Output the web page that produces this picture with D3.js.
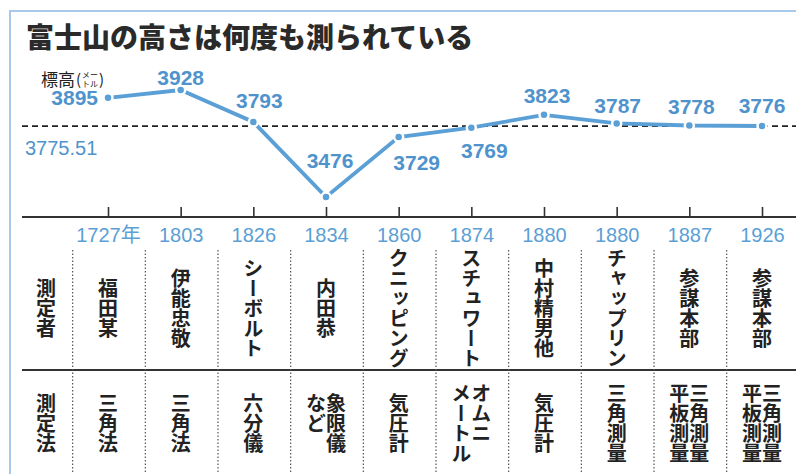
<!DOCTYPE html>
<html>
<head>
<meta charset="utf-8">
<script src="https://cdn.jsdelivr.net/npm/d3@7"></script>
<style>
  body { margin: 0; background: #fff; }
  svg { display: block; }
  .cjk { font-family: "Noto Sans CJK JP", sans-serif; }
  .num { font-family: "Liberation Sans", Arial, sans-serif; }
  .vert { writing-mode: vertical-rl; }
</style>
</head>
<body>
<svg id="chart" width="796" height="474"></svg>
<script>
// data
var years = ["1727年", "1803", "1826", "1834", "1860", "1874", "1880", "1880", "1887", "1926"];
var heights = [3895, 3928, 3793, 3476, 3729, 3769, 3823, 3787, 3778, 3776];
var surveyors = ["福田某", "伊能忠敬", "シーボルト", "内田恭", "クニッピング", "スチュワート", "中村精男他", "チャップリン", "参謀本部", "参謀本部"];
// each method is a list of vertical columns, read right to left
var methods = [["三角法"], ["三角法"], ["六分儀"], ["象限儀", "など"], ["気圧計"], ["オムニ", "メートル"], ["気圧計"], ["三角測量"], ["三角測量", "平板測量"], ["三角測量", "平板測量"]];
var reference = 3775.51;
var title = "富士山の高さは何度も測られている";

var blue = "#5a9fd5";
var labelBlue = "#4f93cd";
var ink = "#222";

var svg = d3.select("#chart");

var x = d3.scalePoint().domain(d3.range(years.length)).range([108, 762]);
var step = x.step();
var y = d3.scaleLinear().domain([3476, 3928]).range([197, 90]);

// frame
svg.append("path")
    .attr("d", "M10,474V11H796")
    .attr("fill", "none")
    .attr("stroke", "#a9c9ea")
    .attr("stroke-width", 2);

// title
svg.append("text")
    .attr("class", "cjk")
    .attr("x", 26).attr("y", 48)
    .attr("font-size", 28).attr("font-weight", 900)
    .attr("fill", "#2a2a2a")
    .text(title);

// unit label: 標高(メートル) with the unit stacked small, one text element
var unit = svg.append("text").attr("class", "cjk").attr("fill", ink).attr("y", 86);
unit.append("tspan").attr("x", 41).attr("font-size", 17).text("標高");
unit.append("tspan").attr("x", 76).attr("dy", -1).attr("font-size", 15).text("(");
unit.append("tspan").attr("x", 82).attr("dy", -7).attr("font-size", 8).text("メー");
unit.append("tspan").attr("x", 82).attr("dy", 9).attr("font-size", 8).text("トル");
unit.append("tspan").attr("x", 99).attr("dy", -2).attr("font-size", 15).text(")");

// reference height
svg.append("line")
    .attr("x1", 22).attr("x2", 796)
    .attr("y1", y(reference)).attr("y2", y(reference))
    .attr("stroke", "#222").attr("stroke-width", 1.6)
    .attr("stroke-dasharray", "6,4");
svg.append("text")
    .attr("class", "num")
    .attr("x", 25).attr("y", y(reference) + 29)
    .attr("font-size", 20).attr("fill", labelBlue)
    .text(reference);

// axis
var axisY = 217;
svg.append("line")
    .attr("x1", 22).attr("x2", 796)
    .attr("y1", axisY).attr("y2", axisY)
    .attr("stroke", "#333").attr("stroke-width", 2);

var axis = svg.append("g")
    .attr("transform", "translate(0," + axisY + ")")
    .call(d3.axisBottom(x).tickSize(-10).tickPadding(11).tickFormat(function(i) { return years[i]; }));
axis.select(".domain").remove();
axis.selectAll(".tick line").attr("stroke", "#333").attr("stroke-width", 1.6);
axis.selectAll(".tick text")
    .attr("class", "num")
    .attr("font-size", 20)
    .attr("fill", blue)
    .style("font-family", "'Liberation Sans', 'Noto Sans CJK JP', sans-serif");

// line + points
var line = d3.line()
    .x(function(d, i) { return x(i); })
    .y(function(d) { return y(d); });

svg.append("path")
    .datum(heights)
    .attr("d", line)
    .attr("fill", "none")
    .attr("stroke", blue)
    .attr("stroke-width", 3.8);

svg.selectAll(".pt")
    .data(heights)
    .enter().append("circle")
    .attr("class", "pt")
    .attr("cx", function(d, i) { return x(i); })
    .attr("cy", function(d) { return y(d); })
    .attr("r", 4.5)
    .attr("fill", blue)
    .attr("stroke", "#fff")
    .attr("stroke-width", 2.5);

// value labels, nudged to sit like the original
var labelNudge = [[-10, 7], [0, -5], [6, -14], [4, -29], [18, 33], [13, 30], [3, -12], [1, -10], [2, -12], [0, -13]];
svg.selectAll(".val")
    .data(heights)
    .enter().append("text")
    .attr("class", "num val")
    .attr("x", function(d, i) { return x(i) + labelNudge[i][0]; })
    .attr("y", function(d, i) { return y(d) + labelNudge[i][1]; })
    .attr("text-anchor", function(d, i) { return i === 0 ? "end" : "middle"; })
    .attr("font-size", 21)
    .attr("font-weight", "bold")
    .attr("fill", labelBlue)
    .text(function(d) { return d; });

// table
var tableTop = 250, rowSplit = 370;
var row1Mid = 308, row2Mid = 423;
var fs = 20;

svg.append("line")
    .attr("x1", 22).attr("x2", 796)
    .attr("y1", rowSplit).attr("y2", rowSplit)
    .attr("stroke", "#333").attr("stroke-width", 1.8);

svg.selectAll(".sep")
    .data(d3.range(years.length))
    .enter().append("line")
    .attr("class", "sep")
    .attr("x1", function(i) { return x(i) - step / 2 + 1; })
    .attr("x2", function(i) { return x(i) - step / 2 + 1; })
    .attr("y1", tableTop).attr("y2", 474)
    .attr("stroke", "#555").attr("stroke-width", 1.2)
    .attr("stroke-dasharray", "1.5,2");

function vtext(g, str, cx, top) {
    g.append("text")
        .attr("class", "cjk vert")
        .attr("x", cx).attr("y", top)
        .attr("font-size", fs)
        .attr("font-weight", "bold")
        .attr("fill", ink)
        .text(str);
}

var cells = svg.append("g");
// row headers
vtext(cells, "測定者", 46, row1Mid - fs * 1.5);
vtext(cells, "測定法", 46, row2Mid - fs * 1.5);

surveyors.forEach(function(s, i) {
    vtext(cells, s, x(i), row1Mid - fs * s.length / 2);
});

methods.forEach(function(cols, i) {
    var n = cols.length;
    var maxLen = d3.max(cols, function(c) { return c.length; });
    var top = row2Mid - fs * maxLen / 2;
    cols.forEach(function(c, j) {
        var cx = x(i) + (n - 1) * fs / 2 - j * fs;
        var t = n === 1 ? row2Mid - fs * c.length / 2 : top;
        vtext(cells, c, cx, t);
    });
});
</script>
</body>
</html>
